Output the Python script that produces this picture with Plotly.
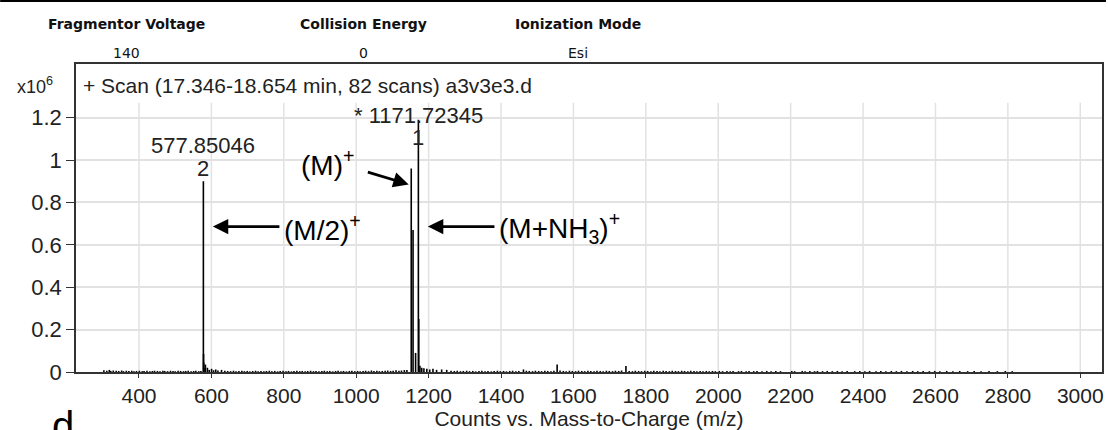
import plotly.graph_objects as go

# ---------------- data ----------------
# major / labelled peaks: m/z and counts (x10^6)
peak_mz = [577.85, 578.35, 578.85, 579.35, 583.5, 589.0, 600.5, 612.0, 628.0,
           1152.0, 1157.0, 1164.0, 1171.72, 1172.72, 1176.0, 1181.0, 1187.0,
           1195.0, 1203.0, 1212.0, 1222.0, 1236.0, 1250.0, 1462.0, 1555.0, 1745.0]
peak_int = [0.90, 0.085, 0.045, 0.02, 0.035, 0.02, 0.015, 0.012, 0.01,
            0.96, 0.67, 0.09, 1.19, 0.25, 0.03, 0.02, 0.018,
            0.015, 0.012, 0.015, 0.01, 0.012, 0.01, 0.012, 0.035, 0.028]

# low-level baseline noise sticks
noise_mz = [303, 311, 318, 322, 329, 337, 344, 352, 357, 365, 372, 380, 386, 393, 401, 409,
            414, 422, 430, 437, 443, 451, 458, 466, 471, 479, 487, 494, 500, 508, 515, 523,
            529, 536, 544, 551, 557, 565, 571, 594, 606, 618, 637, 645, 653, 661, 668, 676,
            684, 691, 699, 706, 714, 722, 729, 737, 745, 752, 760, 767, 775, 783, 790, 798,
            806, 813, 821, 828, 836, 844, 851, 859, 866, 874, 882, 889, 897, 905, 912, 920,
            927, 935, 943, 950, 958, 965, 973, 981, 988, 996, 1004, 1011, 1019, 1026, 1034,
            1042, 1049, 1057, 1064, 1072, 1080, 1087, 1095, 1102, 1110, 1118, 1125, 1133,
            1140, 1262, 1271, 1279, 1288, 1296, 1305, 1313, 1322, 1330, 1339, 1347, 1356,
            1364, 1373, 1381, 1390, 1398, 1407, 1415, 1424, 1432, 1441, 1449, 1470, 1478,
            1487, 1495, 1504, 1512, 1521, 1529, 1538, 1546, 1563, 1572, 1580, 1589, 1597,
            1606, 1614, 1623, 1631, 1640, 1648, 1657, 1665, 1674, 1682, 1691, 1699, 1708,
            1716, 1725, 1733, 1754, 1763, 1771, 1780, 1788, 1797, 1805, 1814, 1822, 1831,
            1839, 1848, 1856, 1865, 1873, 1882, 1890, 1899, 1907, 1916, 1924, 1933, 1941,
            1950, 1958, 1967, 1975, 1984, 1992, 2003, 2012, 2024, 2033, 2041, 2056, 2064,
            2077, 2085, 2098, 2107, 2121, 2134, 2146, 2159, 2172, 2203, 2211, 2232, 2240,
            2253, 2266, 2274, 2288, 2301, 2315, 2329, 2342, 2356, 2377, 2391, 2405, 2418,
            2436, 2449, 2463, 2478, 2492, 2506, 2521, 2537, 2551, 2566, 2583, 2598, 2612,
            2631, 2648, 2667, 2689, 2707, 2726, 2748, 2771, 2793, 2812, 2836, 2858, 2891,
            2905, 2918, 2938, 2951]
noise_int = [0.008, 0.006, 0.010, 0.005, 0.007, 0.006, 0.005, 0.007, 0.004, 0.006, 0.005,
             0.006, 0.004, 0.005, 0.006, 0.004, 0.005, 0.006, 0.004, 0.005, 0.006, 0.005,
             0.004, 0.006, 0.005, 0.004, 0.006, 0.005, 0.004, 0.006, 0.005, 0.004, 0.005,
             0.006, 0.004, 0.005, 0.006, 0.004, 0.005, 0.010, 0.008, 0.007, 0.006, 0.005,
             0.004, 0.006, 0.003, 0.005, 0.006, 0.004, 0.005, 0.003, 0.005, 0.006, 0.004,
             0.005, 0.003, 0.005, 0.006, 0.004, 0.005, 0.003, 0.005, 0.006, 0.004, 0.005,
             0.003, 0.005, 0.006, 0.004, 0.005, 0.003, 0.005, 0.006, 0.004, 0.005, 0.003,
             0.005, 0.006, 0.004, 0.005, 0.003, 0.005, 0.006, 0.004, 0.005, 0.003, 0.005,
             0.006, 0.004, 0.005, 0.003, 0.005, 0.006, 0.004, 0.007, 0.005, 0.006, 0.004,
             0.005, 0.006, 0.007, 0.005, 0.006, 0.008, 0.006, 0.007, 0.009, 0.010, 0.006,
             0.005, 0.006, 0.004, 0.005, 0.006, 0.004, 0.005, 0.003, 0.005, 0.006, 0.004,
             0.005, 0.003, 0.005, 0.006, 0.004, 0.005, 0.003, 0.005, 0.006, 0.004, 0.005,
             0.006, 0.005, 0.004, 0.006, 0.005, 0.004, 0.006, 0.005, 0.004, 0.006, 0.007,
             0.005, 0.004, 0.006, 0.005, 0.004, 0.006, 0.005, 0.004, 0.006, 0.005, 0.004,
             0.006, 0.005, 0.004, 0.006, 0.005, 0.004, 0.006, 0.005, 0.007, 0.005, 0.004,
             0.006, 0.005, 0.004, 0.006, 0.005, 0.004, 0.006, 0.005, 0.004, 0.006, 0.005,
             0.004, 0.006, 0.005, 0.004, 0.006, 0.005, 0.004, 0.006, 0.005, 0.004, 0.005,
             0.004, 0.005, 0.004, 0.005, 0.004, 0.005, 0.004, 0.005, 0.004, 0.005, 0.004,
             0.005, 0.004, 0.005, 0.004, 0.005, 0.004, 0.005, 0.004, 0.005, 0.004, 0.005,
             0.004, 0.005, 0.004, 0.005, 0.004, 0.005, 0.004, 0.005, 0.004, 0.005, 0.004,
             0.005, 0.004, 0.005, 0.004, 0.005, 0.004, 0.005, 0.004, 0.005, 0.004, 0.005,
             0.004, 0.005, 0.004, 0.005, 0.004, 0.005, 0.004, 0.005, 0.004, 0.005, 0.004,
             0.005, 0.004, 0.005, 0.004, 0.005, 0.004]

x_ticks = [400, 600, 800, 1000, 1200, 1400, 1600, 1800, 2000, 2200, 2400, 2600, 2800, 3000]
y_ticks = [0, 0.2, 0.4, 0.6, 0.8, 1.0, 1.2]
y_ticktext = ["0", "0.2", "0.4", "0.6", "0.8", "1", "1.2"]

header_titles = ["Fragmentor Voltage", "Collision Energy", "Ionization Mode"]
header_values = ["140", "0", "Esi"]

scan_text = "+ Scan (17.346-18.654 min, 82 scans) a3v3e3.d"
x_title = "Counts vs. Mass-to-Charge (m/z)"

# ---------------- layout geometry ----------------
W, H = 1108, 430
L, R, T, B = 76, 1104, 64, 372          # plot box in pixels


def px_x(p):
    return (p - L) / (R - L)


def px_y(p):
    return (B - p) / (B - T)


FONT = "Liberation Sans, Arial, Helvetica, sans-serif"
HFONT = "DejaVu Sans, Tahoma, Verdana, sans-serif"

# build stick spectrum
xs, ys = [], []
for m, v in list(zip(noise_mz, noise_int)) + list(zip(peak_mz, peak_int)):
    xs += [m, m, None]
    ys += [0, v, None]

fig = go.Figure()
fig.add_trace(go.Scatter(x=xs, y=ys, mode="lines",
                         line=dict(color="black", width=1.6),
                         hoverinfo="skip", showlegend=False))

shapes = []
for t in x_ticks:
    shapes.append(dict(type="line", xref="x", yref="y", x0=t, x1=t, y0=0, y1=1.27,
                       line=dict(color="#e2e2e2", width=1.5), layer="below"))
# top rule across whole page
shapes.append(dict(type="line", xref="paper", yref="paper",
                   x0=px_x(0), x1=px_x(W), y0=px_y(1), y1=px_y(1),
                   line=dict(color="black", width=2)))

ann = []
# header table
for cx, t, v in zip([127, 364, 579], header_titles, header_values):
    ann.append(dict(text="<b>" + t + "</b>", x=px_x(cx), y=px_y(24), xref="paper", yref="paper",
                    xanchor="center", yanchor="middle", showarrow=False,
                    font=dict(family=HFONT, size=14, color="#111")))
    ann.append(dict(text=v, x=px_x(cx), y=px_y(53), xref="paper", yref="paper",
                    xanchor="center", yanchor="middle", showarrow=False,
                    font=dict(family=HFONT, size=14, color="#111")))

ann.append(dict(text="x10<sup>6</sup>", x=px_x(55), y=px_y(86), xref="paper", yref="paper",
                xanchor="right", yanchor="middle", showarrow=False,
                font=dict(family=FONT, size=18, color="#222")))
ann.append(dict(text=scan_text, x=px_x(81), y=px_y(85), xref="paper", yref="paper",
                xanchor="left", yanchor="middle", showarrow=False,
                font=dict(family=FONT, size=21, color="#222")))

# peak labels
LF = dict(family=FONT, size=22, color="#222")
ann.append(dict(text="577.85046", x=577.85, y=1.07, xanchor="center", yanchor="middle",
                showarrow=False, font=LF))
ann.append(dict(text="2", x=577.85, y=0.962, xanchor="center", yanchor="middle",
                showarrow=False, font=LF))
ann.append(dict(text="* 1171.72345", x=1171.72, y=1.212, xanchor="center", yanchor="middle",
                showarrow=False, font=LF))
ann.append(dict(text="1", x=1171.72, y=1.108, xanchor="center", yanchor="middle",
                showarrow=False, font=LF))

# ion labels and arrows
AF = dict(family=FONT, size=28, color="black")
ann.append(dict(text="(M/2)<sup>+</sup>", x=796, y=0.68, xanchor="left", yanchor="middle",
                showarrow=False, font=AF))
ann.append(dict(text="(M)<sup>+</sup>", x=921, y=0.985, xanchor="center", yanchor="middle",
                showarrow=False, font=AF))
ann.append(dict(text="(M+NH<sub>3</sub>)<sup>+</sup>", x=1390, y=0.68, xanchor="left",
                yanchor="middle", showarrow=False, font=AF))
for (tx, ty, hx, hy) in [(792, 0.686, 604, 0.686), (1028, 0.945, 1145, 0.885),
                         (1386, 0.686, 1198, 0.686)]:
    ann.append(dict(x=hx, y=hy, ax=tx, ay=ty, xref="x", yref="y", axref="x", ayref="y",
                    text="", showarrow=True, arrowhead=2, arrowsize=1.1, arrowwidth=2.8,
                    arrowcolor="black", standoff=0))

# panel letter (cut off at the bottom)
ann.append(dict(text="d", x=px_x(50), y=px_y(402), xref="paper", yref="paper",
                xanchor="left", yanchor="top", showarrow=False,
                font=dict(family=FONT, size=40, color="black")))

fig.update_layout(
    width=W, height=H,
    margin=dict(l=L, r=W - R, t=T, b=H - B),
    paper_bgcolor="white", plot_bgcolor="white",
    shapes=shapes, annotations=ann,
    xaxis=dict(range=[226, 3060], tickvals=x_ticks, showgrid=False, zeroline=False,
               showline=True, mirror=True, linecolor="#333", linewidth=1.5,
               ticks="outside", ticklen=4, tickcolor="#333",
               tickfont=dict(family=FONT, size=21, color="#222"),
               title=dict(text=x_title, font=dict(family=FONT, size=21, color="#222"), standoff=0)),
    yaxis=dict(range=[0, 1.453], tickvals=y_ticks, ticktext=y_ticktext,
               showgrid=True, gridcolor="#e2e2e2", gridwidth=1.5, zeroline=False,
               showline=True, mirror=True, linecolor="#333", linewidth=1.5,
               ticks="outside", ticklen=8, tickcolor="#333",
               tickfont=dict(family=FONT, size=22, color="#222")),
)

fig.write_html("out.html")
